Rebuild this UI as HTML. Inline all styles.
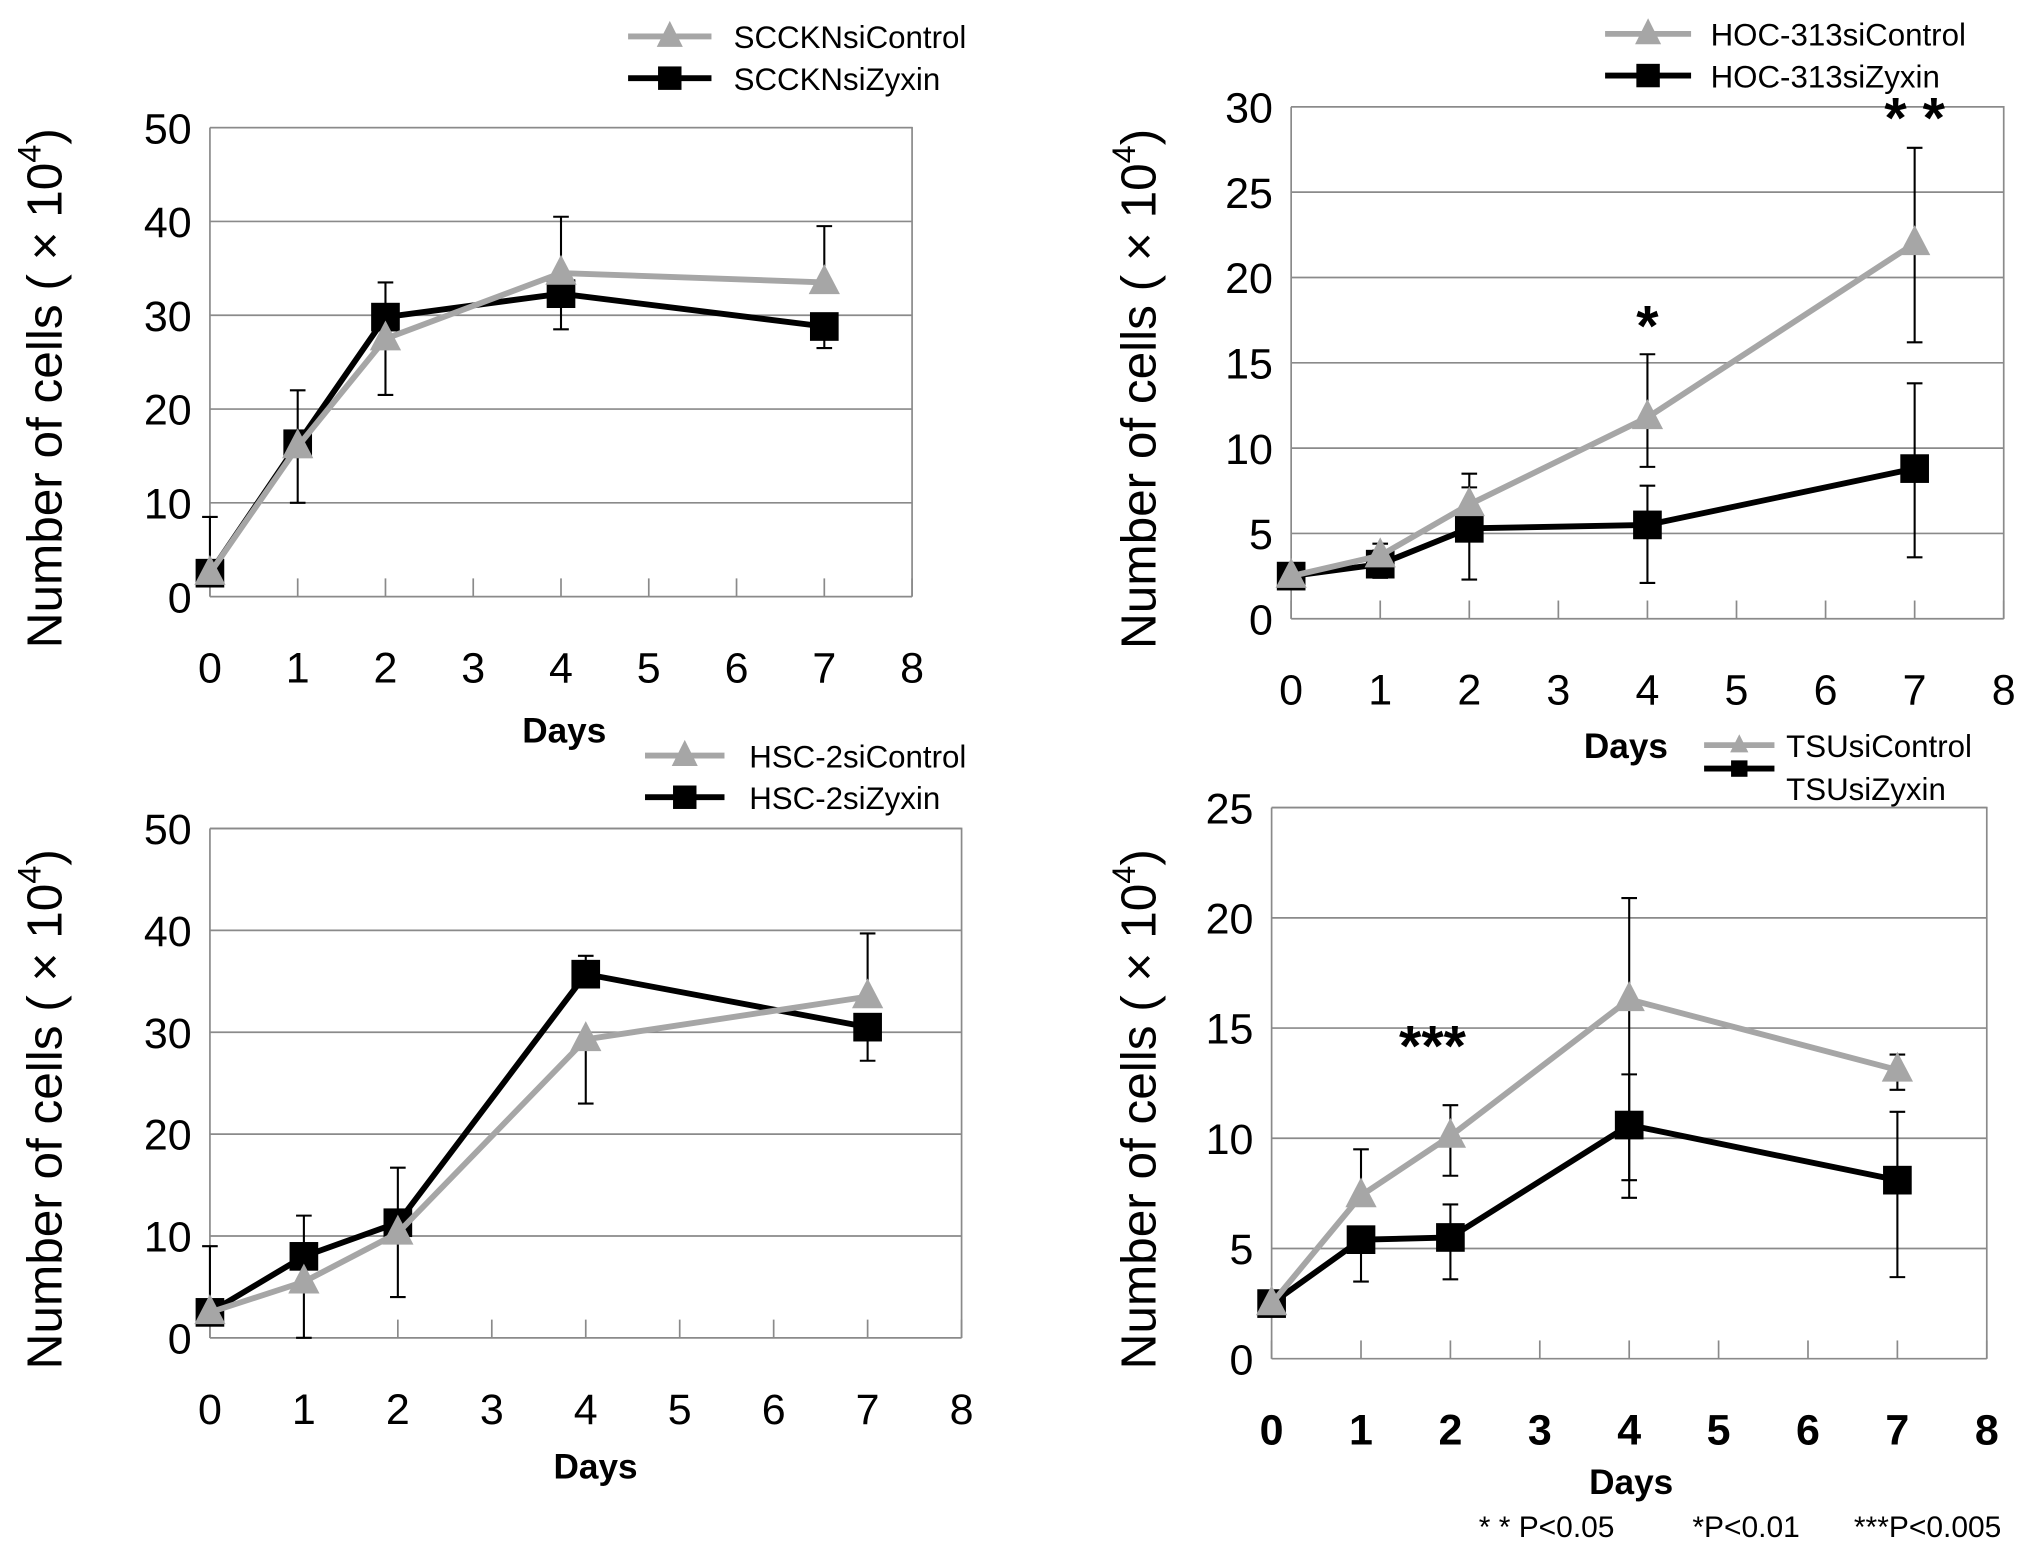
<!DOCTYPE html>
<html><head><meta charset="utf-8"><style>
html,body{margin:0;padding:0;background:#fff;}
svg{display:block;font-family:"Liberation Sans",sans-serif;}
</style></head><body>
<svg id="fig" width="2043" height="1558" viewBox="0 0 1568 1196" xmlns="http://www.w3.org/2000/svg"></svg>
<script>
const days = [0,1,2,4,7];
const xTicks = [0,1,2,3,4,5,6,7,8];
// Panel A: SCCKN
const sccknCtrl = [2.5,16,27.5,34.5,33.5];
const sccknCtrlUp = [6,6,0,6,6];
const sccknCtrlDn = [0,6,6,0,0];
const sccknZyx = [2.5,16.3,29.8,32.3,28.8];
const sccknZyxUp = [0,0,3.7,0,0];
const sccknZyxDn = [0,0,0,3.8,2.3];
const sccknYTicks = [0,10,20,30,40,50];
// Panel B: HOC-313
const hocCtrl = [2.5,3.7,6.7,11.8,22];
const hocCtrlUp = [0,0.7,1.8,3.7,5.6];
const hocCtrlDn = [0,0.7,0,2.9,5.8];
const hocZyx = [2.5,3.2,5.3,5.5,8.8];
const hocZyxUp = [0,0.8,2.4,2.3,5];
const hocZyxDn = [0,0.8,3,3.4,5.2];
const hocYTicks = [0,5,10,15,20,25,30];
// Panel C: HSC-2
const hscCtrl = [2.5,5.5,10.3,29.3,33.5];
const hscCtrlUp = [6.5,0,0,0,6.2];
const hscCtrlDn = [0,5.5,6.3,6.3,0];
const hscZyx = [2.5,8,11.3,35.7,30.5];
const hscZyxUp = [0,4,5.4,1.8,0];
const hscZyxDn = [0,0,0,0,3.3];
const hscYTicks = [0,10,20,30,40,50];
// Panel D: TSU
const tsuCtrl = [2.5,7.4,10.1,16.3,13.1];
const tsuCtrlUp = [0,2.1,1.4,4.6,0.7];
const tsuCtrlDn = [0,0,1.8,8.2,0.9];
const tsuZyx = [2.5,5.4,5.5,10.6,8.1];
const tsuZyxUp = [0,0,1.5,2.3,3.1];
const tsuZyxDn = [0,1.9,1.9,3.3,4.4];
const tsuYTicks = [0,5,10,15,20,25];

const NS = "http://www.w3.org/2000/svg";
const svg = document.getElementById('fig');
function mk(tag, attrs, parent, text){
  const e = document.createElementNS(NS, tag);
  for (const k in attrs) e.setAttribute(k, attrs[k]);
  if (text !== undefined) e.textContent = text;
  (parent||svg).appendChild(e);
  return e;
}

function panel(cfg){
  const g = mk('g', {});
  
  
  const ymax = cfg.yTicks[cfg.yTicks.length-1];
  const X = d => cfg.x0 + (cfg.x8 - cfg.x0) * d / 8;
  const Y = v => cfg.y0 - (cfg.y0 - cfg.yT) * v / ymax;
  cfg.yTicks.forEach(t => {
    if (t === 0) return;
    const l = mk('line', {x1:X(0), x2:X(8), y1:Y(t), y2:Y(t), stroke:'#8a8a8a', 'stroke-width':1.3}, g);
    
    
  });
  const fr = mk('path', {d:`M${X(0)},${Y(ymax)} L${X(8)},${Y(ymax)} L${X(8)},${Y(0)}`, fill:'none', stroke:'#8a8a8a', 'stroke-width':1.3}, g);
  
  
  const ya = mk('line', {x1:X(0), x2:X(0), y1:Y(ymax), y2:Y(0), stroke:'#8a8a8a', 'stroke-width':1.3}, g);
  
  
  const xa = mk('line', {x1:X(0), x2:X(8), y1:Y(0), y2:Y(0), stroke:'#8a8a8a', 'stroke-width':1.3}, g);
  
  
  xTicks.forEach(t => {
    const tk = mk('line', {x1:X(t), x2:X(t), y1:Y(0)-14, y2:Y(0), stroke:'#8a8a8a', 'stroke-width':1.3}, g);
    
    
    const tl = mk('text', {x:X(t), y:Y(0)+66, 'font-size':33, 'font-weight':cfg.bold?'bold':'normal', 'text-anchor':'middle', fill:'#000'}, g, String(t));
    
    
  });
  cfg.yTicks.forEach(t => {
    const tl = mk('text', {x:X(0)-14, y:Y(t)+12, 'font-size':33, 'text-anchor':'end', fill:'#000'}, g, String(t));
    
    
  });
  const cy = (Y(0)+Y(ymax))/2 + 20;
  const yt = mk('text', {x:cfg.titleX, y:cy, 'font-size':38, 'text-anchor':'middle', transform:`rotate(-90 ${cfg.titleX} ${cy})`, fill:'#000'}, g);
  
  
  mk('tspan', {}, yt, 'Number of cells ( × 10');
  mk('tspan', {dy:-16, 'font-size':25}, yt, '4');
  mk('tspan', {dy:16}, yt, ')');
  const xt = mk('text', {x:cfg.daysX, y:cfg.daysY, 'font-size':27, 'font-weight':'bold', 'text-anchor':'middle', fill:'#000'}, g, 'Days');
  
  

  function series(vals, up, dn, color, marker, sname){
    const sg = mk('g', {}, g);
    
    
    vals.forEach((v,i) => {
      const x = X(days[i]);
      [[up[i],1],[dn[i],-1]].forEach(([e,s]) => {
        if (!e) return;
        const ye = Y(v + s*e);
        const eb = mk('path', {d:`M${x},${Y(v)} L${x},${ye} M${x-6},${ye} L${x+6},${ye}`, stroke:'#000', 'stroke-width':1.6, fill:'none'}, sg);
        
        
      });
    });
    const pl = mk('polyline', {points: vals.map((v,i)=>`${X(days[i])},${Y(v)}`).join(' '), fill:'none', stroke:color, 'stroke-width':4.5}, sg);
    
    
    vals.forEach((v,i) => {
      const x = X(days[i]), y = Y(v);
      let m;
      if (marker === 'sq') m = mk('rect', {x:x-11, y:y-11, width:22, height:22, fill:color}, sg);
      else m = mk('polygon', {points:`${x},${y-14} ${x-12},${y+9} ${x+12},${y+9}`, fill:color}, sg);
      
      
    });
  }
  series(cfg.zyx, cfg.zyxUp, cfg.zyxDn, '#000', 'sq', 'siZyxin-series');
  series(cfg.ctrl, cfg.ctrlUp, cfg.ctrlDn, '#a6a6a6', 'tri', 'siControl-series');
  const lg = mk('g', {}, g);
  
  
  const [lx1, lx2, ly, tx] = cfg.legend;
  const mx = (lx1+lx2)/2;
  const ms = cfg.lsmall ? 0.7 : 1;
  mk('line', {x1:lx1, x2:lx2, y1:ly, y2:ly, stroke:'#a6a6a6', 'stroke-width':4.5}, lg);
  mk('polygon', {points:`${mx},${ly-12*ms} ${mx-10*ms},${ly+8*ms} ${mx+10*ms},${ly+8*ms}`, fill:'#a6a6a6'}, lg);
  const t1 = mk('text', {x:tx, y:ly+9+(cfg.t1dy||0), 'font-size':24, fill:'#000'}, lg, cfg.label+'siControl');
  
  
  const ly2 = ly + cfg.lgap;
  mk('line', {x1:lx1, x2:lx2, y1:ly2, y2:ly2, stroke:'#000', 'stroke-width':4.5}, lg);
  mk('rect', {x:mx-9*ms, y:ly2-9*ms, width:18*ms, height:18*ms, fill:'#000'}, lg);
  const t2 = mk('text', {x:tx, y:ly2+9+(cfg.t2dy||0), 'font-size':24, fill:'#000'}, lg, cfg.label+'siZyxin');
  
  
  (cfg.stars||[]).forEach(s => {
    const st = mk('text', {x:X(s[0]), y:Y(s[1]), 'font-size':44, 'font-weight':'bold', 'text-anchor':'middle', fill:'#000'}, g, s[2]);
    
    
  });
}

panel({name:'panel-scckn', x0:161, x8:700, y0:458, yT:98, yTicks:sccknYTicks, titleX:47, daysX:433, daysY:570,
  ctrl:sccknCtrl, ctrlUp:sccknCtrlUp, ctrlDn:sccknCtrlDn, zyx:sccknZyx, zyxUp:sccknZyxUp, zyxDn:sccknZyxDn,
  legend:[482,546,28,563], lgap:32, label:'SCCKN'});
panel({name:'panel-hoc313', x0:991, x8:1538, y0:475, yT:82, yTicks:hocYTicks, titleX:887, daysX:1248, daysY:582,
  ctrl:hocCtrl, ctrlUp:hocCtrlUp, ctrlDn:hocCtrlDn, zyx:hocZyx, zyxUp:hocZyxUp, zyxDn:hocZyxDn,
  legend:[1232,1298,26,1313], lgap:32, label:'HOC-313', stars:[[4,16,'*'],[7,28.2,'* *']]});
panel({name:'panel-hsc2', x0:161, x8:738, y0:1027, yT:636, yTicks:hscYTicks, titleX:47, daysX:457, daysY:1135,
  ctrl:hscCtrl, ctrlUp:hscCtrlUp, ctrlDn:hscCtrlDn, zyx:hscZyx, zyxUp:hscZyxUp, zyxDn:hscZyxDn,
  legend:[495,556,580,575], lgap:32, label:'HSC-2'});
panel({name:'panel-tsu', x0:976, x8:1525, y0:1043, yT:620, yTicks:tsuYTicks, titleX:887, daysX:1252, daysY:1147, bold:true, lsmall:true,
  ctrl:tsuCtrl, ctrlUp:tsuCtrlUp, ctrlDn:tsuCtrlDn, zyx:tsuZyx, zyxUp:tsuZyxUp, zyxDn:tsuZyxDn,
  legend:[1308,1362,572,1371], lgap:18, t1dy:0, t2dy:15, label:'TSU', stars:[[1.8,13.3,'***']]});

const fn = mk('text', {x:1135, y:1180, 'font-size':23, fill:'#000'}, svg, '* * P<0.05');


const fn2 = mk('text', {x:1299, y:1180, 'font-size':23, fill:'#000'}, svg, '*P<0.01');


const fn3 = mk('text', {x:1423, y:1180, 'font-size':23, fill:'#000'}, svg, '***P<0.005');


</script>
</body></html>
